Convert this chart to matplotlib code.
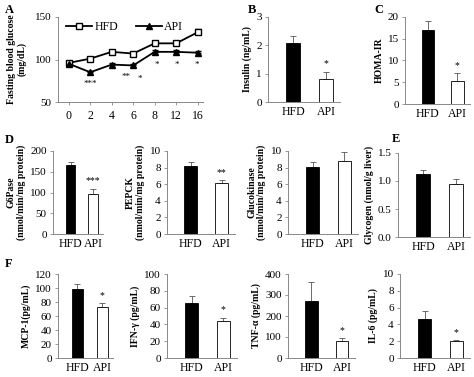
import numpy as np
import matplotlib.pyplot as plt

plt.rcParams['font.family'] = ['Liberation Serif', 'DejaVu Serif']
plt.rcParams['font.size'] = 8

W, H = 474, 377

# panel A: fasting blood glucose over weeks
weeks = ['0', '2', '4', '6', '8', '12', '16']
hfd_glu = [96, 101, 109, 107, 119, 119, 132]
hfd_glu_err = [1, 1.5, 1.5, 1.5, 2, 2, 4]
api_glu = [95, 85, 94, 93, 109, 109, 108]
api_glu_err = [1, 1.5, 1.5, 1.5, 2, 2, 2]
glu_stars = ['', '***', '**', '*', '*', '*', '*']

groups = ['HFD', 'API']

# bar panels: (ylabel, values, errors, star, ylim, yticks, tick labels)
bar_panels = {
    'insulin': ('Insulin (ng/mL)', [2.1, 0.82], [0.22, 0.25], '*', (0, 3), [0, 1, 2, 3], None),
    'homa': ('HOMA-IR', [17.0, 5.3], [2.0, 1.8], '*', (0, 20), [0, 5, 10, 15, 20], None),
    'g6pase': ('G6Pase\n(nmol/min/mg protein)', [166, 97], [8, 12], '***', (0, 200), [0, 50, 100, 150, 200], None),
    'pepck': ('PEPCK\n(nmol/min/mg protein)', [8.2, 6.2], [0.5, 0.3], '**', (0, 10), [0, 2, 4, 6, 8, 10], None),
    'gk': ('Glucokinase\n(nmol/min/mg protein)', [8.1, 8.8], [0.6, 1.1], '', (0, 10), [0, 2, 4, 6, 8, 10], None),
    'glycogen': ('Glycogen (nmol/g liver)', [1.13, 0.94], [0.07, 0.09], '', (0, 1.5), [0, 0.5, 1.0, 1.5],
                 ['0.0', '0.5', '1.0', '1.5']),
    'mcp1': ('MCP-1(pg/mL)', [98, 73], [8, 5], '*', (0, 120), [0, 20, 40, 60, 80, 100, 120], None),
    'ifng': ('IFN-γ (pg/mL)', [65, 44], [9, 4], '*', (0, 100), [0, 20, 40, 60, 80, 100], None),
    'tnfa': ('TNF-α (pg/mL)', [272, 82], [88, 12], '*', (0, 400), [0, 100, 200, 300, 400], None),
    'il6': ('IL-6 (pg/mL)', [4.6, 2.0], [1.0, 0.12], '*', (0, 10), [0, 2, 4, 6, 8, 10], None),
}


def px_axes(fig, x0, y0, x1, y1):
    """axes from pixel box (top-left origin)"""
    return fig.add_axes([x0 / W, 1 - y1 / H, (x1 - x0) / W, (y1 - y0) / H])


def style(ax):
    ax.spines['top'].set_visible(False)
    ax.spines['right'].set_visible(False)
    ax.spines['left'].set_color('#888888')
    ax.spines['bottom'].set_color('#888888')
    ax.spines['left'].set_linewidth(0.7)
    ax.spines['bottom'].set_linewidth(0.7)
    ax.tick_params(axis='y', length=2.5, width=0.6, color='#888888', pad=2, labelsize=8)
    ax.tick_params(axis='x', length=0, pad=3)


def bar_panel(ax, key):
    ylabel, vals, errs, star, ylim, yticks, ticklabels = bar_panels[key]
    x = np.arange(len(groups))
    ax.bar(x, vals, width=0.42, color=['black', 'white'], edgecolor='black', linewidth=0.6, zorder=2)
    ax.errorbar(x, vals, yerr=[[0, 0], errs], fmt='none', ecolor='#555555', elinewidth=0.6,
                capsize=2.5, capthick=0.6, zorder=1)
    if star:
        ax.text(1, vals[1] + errs[1] + (ylim[1] - ylim[0]) * 0.04, star, ha='center', va='bottom', fontsize=7)
    ax.set_xlim(-0.77, 1.43)
    ax.set_ylim(*ylim)
    ax.set_yticks(yticks)
    if ticklabels:
        ax.set_yticklabels(ticklabels)
    ax.set_xticks(x)
    ax.set_xticklabels(groups, fontsize=8.5)
    ax.set_ylabel(ylabel, fontweight='bold', fontsize=7, labelpad=3, linespacing=1.1)
    style(ax)


fig = plt.figure(figsize=(W / 100, H / 100), dpi=100)

# --- A ---
ax = px_axes(fig, 58, 17, 203, 102)
xa = np.arange(len(weeks))
ax.errorbar(xa, hfd_glu, yerr=[np.zeros(7), hfd_glu_err], fmt='none', ecolor='black',
            capsize=2, elinewidth=0.6)
ax.errorbar(xa, api_glu, yerr=[np.zeros(7), api_glu_err], fmt='none', ecolor='black',
            capsize=2, elinewidth=0.6)
ax.plot(xa, hfd_glu, color='black', marker='s', mfc='white', mec='black', ms=5, lw=1.3, label='HFD')
ax.plot(xa, api_glu, color='black', marker='^', mfc='black', ms=5, lw=1.3, label='API')
star_y = [0, 71, 80, 77, 94, 94, 94]
star_x = [0, 1, 2.65, 3.3, 4.1, 5.05, 5.95]
for sx, sy, s in zip(star_x, star_y, glu_stars):
    if s:
        ax.text(sx, sy, s, ha='center', va='center', fontsize=6.5)
ax.set_xlim(-0.5, 6.25)
ax.set_ylim(50, 150)
ax.set_yticks([50, 100, 150])
ax.set_xticks(xa)
ax.set_xticklabels(weeks, fontsize=8.5)
ax.set_ylabel('Fasting blood glucose\n(mg/dL)', fontweight='bold', fontsize=7, labelpad=6, linespacing=1.1)
style(ax)
ax.tick_params(axis='x', length=2.5, width=0.6, color='#888888')
ax.legend(loc='upper center', bbox_to_anchor=(0.46, 1.08), ncol=2, frameon=False, fontsize=8.5,
          handlelength=2.2, columnspacing=1.5, handletextpad=0.2)
fig.text(5 / W, 1 - 10 / H, 'A', fontweight='bold', fontsize=9, va='center')

# --- B, C ---
bar_panel(px_axes(fig, 268, 17, 340, 102), 'insulin')
fig.text(248 / W, 1 - 10 / H, 'B', fontweight='bold', fontsize=9, va='center')
bar_panel(px_axes(fig, 405, 17, 470, 104), 'homa')
fig.text(374 / W, 1 - 10 / H, 'C', fontweight='bold', fontsize=9, va='center')

# --- D, E ---
bar_panel(px_axes(fig, 53, 151, 103, 234), 'g6pase')
fig.text(5 / W, 1 - 140 / H, 'D', fontweight='bold', fontsize=9, va='center')
bar_panel(px_axes(fig, 167, 151, 235, 234), 'pepck')
bar_panel(px_axes(fig, 288, 151, 358, 234), 'gk')
bar_panel(px_axes(fig, 398, 153, 470, 237), 'glycogen')
fig.text(392 / W, 1 - 139 / H, 'E', fontweight='bold', fontsize=9, va='center')

# --- F ---
bar_panel(px_axes(fig, 58, 274, 113, 358), 'mcp1')
fig.text(5 / W, 1 - 264 / H, 'F', fontweight='bold', fontsize=9, va='center')
bar_panel(px_axes(fig, 167, 274, 237, 358), 'ifng')
bar_panel(px_axes(fig, 288, 274, 355, 358), 'tnfa')
bar_panel(px_axes(fig, 400, 274, 470, 358), 'il6')

fig.savefig('out.png', dpi=100)
